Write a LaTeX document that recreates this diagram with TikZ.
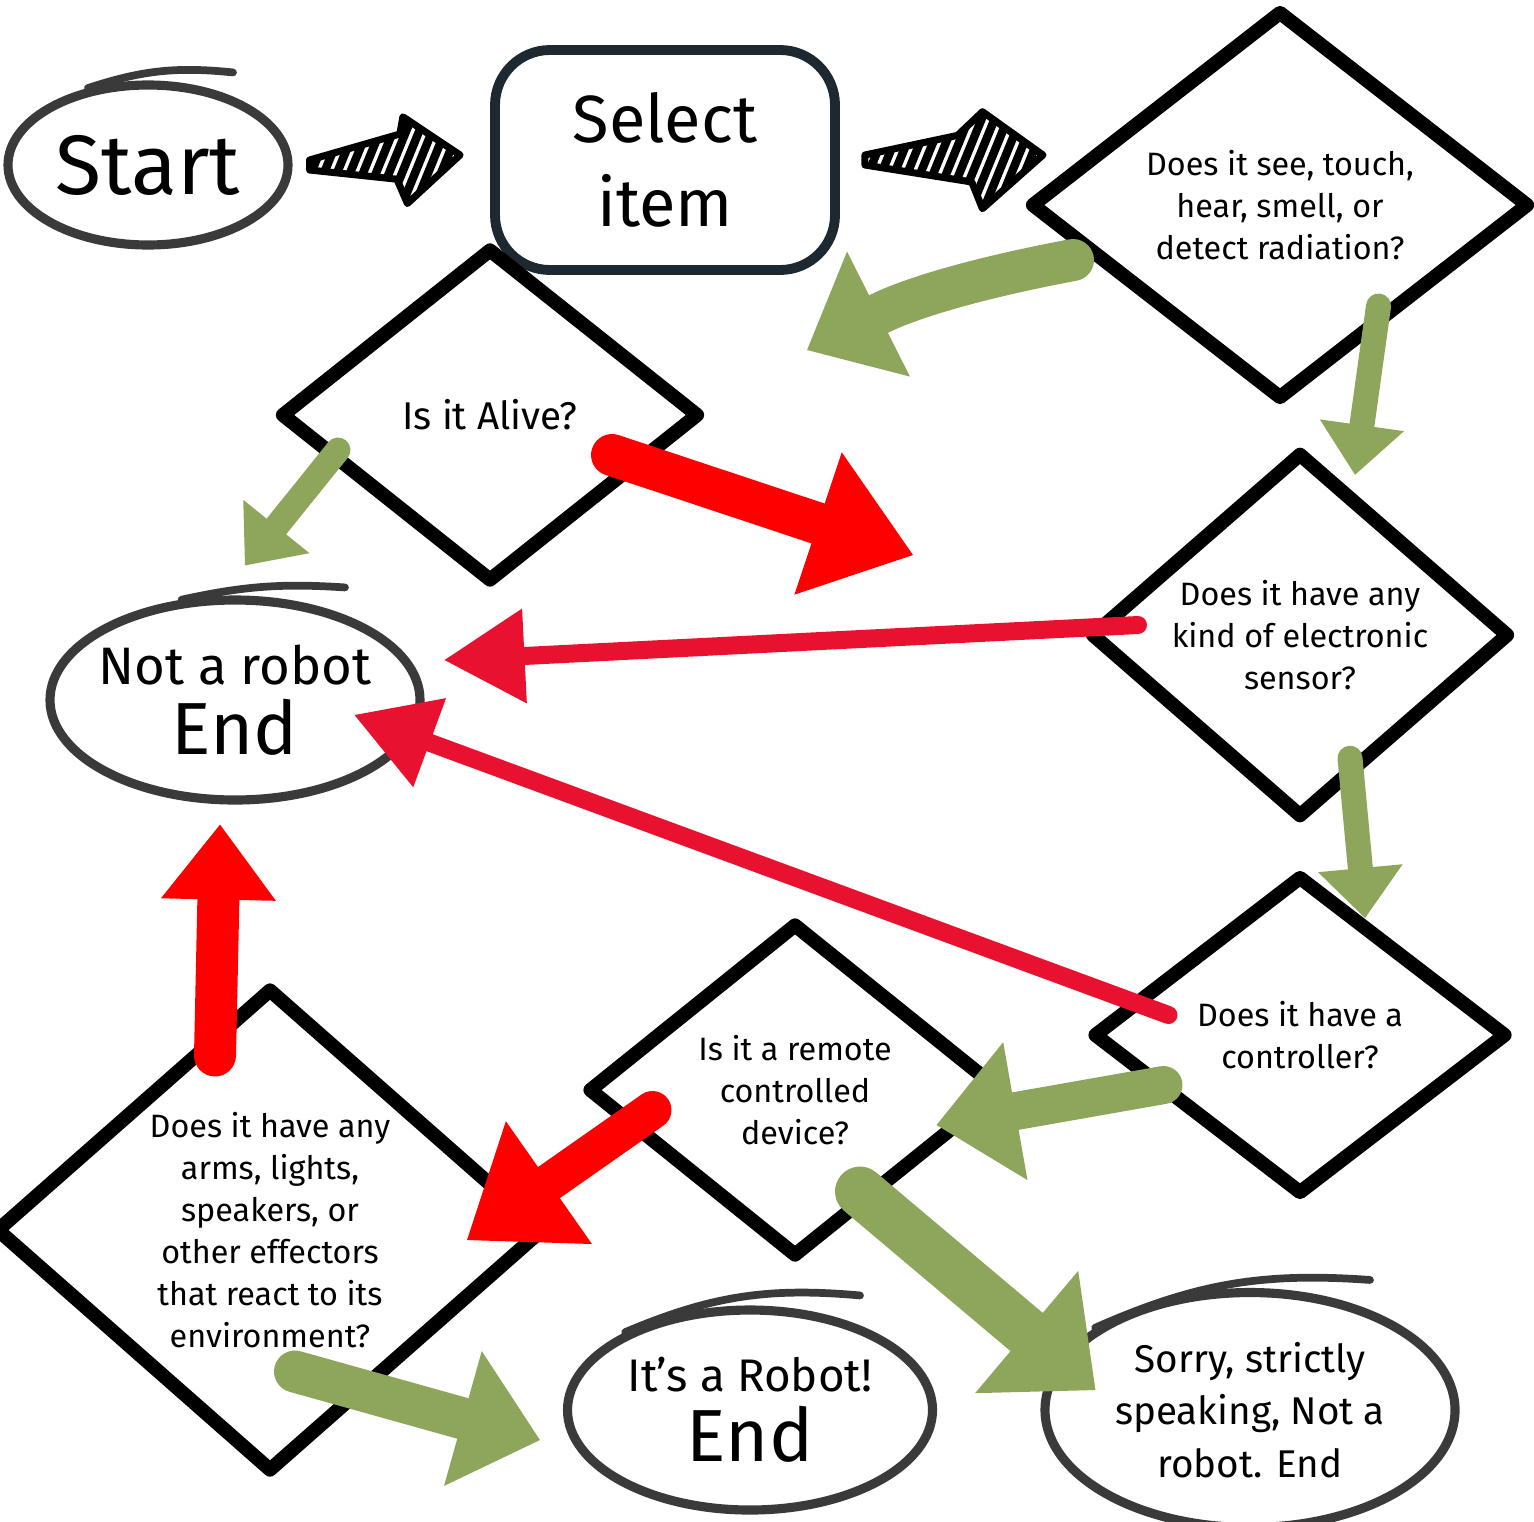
\documentclass[tikz,border=0pt]{standalone}
\usepackage{fontspec}
\setmainfont{Fira Sans}
\usetikzlibrary{arrows.meta,positioning,shapes.geometric,calc}
\definecolor{fcgreen}{RGB}{141,166,91}
\definecolor{fcred}{RGB}{255,0,0}
\definecolor{fcpink}{RGB}{232,18,48}
\definecolor{fcgray}{RGB}{58,58,58}
\definecolor{fcnavy}{RGB}{30,40,48}

\begin{document}
\begin{tikzpicture}[
  every node/.style={align=center,inner sep=0pt},
  question/.style={diamond,draw,line width=4pt,line join=round,font=\fontsize{9.2}{12}\selectfont},
  terminal/.style={ellipse,draw=fcgray,line width=2.6pt,inner sep=-0.2cm},
  process/.style={rectangle,rounded corners=0.55cm,draw=fcnavy,line width=2.8pt,minimum width=3.4cm,minimum height=2.2cm},
  sketch/.style={draw=fcgray,line width=2.2pt,line cap=round},
  garrow/.style={draw=fcgreen,line cap=round,line width=0.42cm,-{Triangle[length=0.8cm,width=1.4cm,line width=0pt]}},
  gthin/.style={draw=fcgreen,line cap=round,line width=0.25cm,-{Triangle[length=0.5cm,width=0.85cm,line width=0pt]}},
  rarrow/.style={draw=fcred,line cap=round,line width=0.42cm,-{Triangle[length=1.0cm,width=1.5cm,line width=0pt]}},
  rthin/.style={draw=fcpink,line cap=round,line width=0.18cm,-{Triangle[length=0.8cm,width=0.95cm,line width=0pt]}},
  hatched/.style={draw,line width=2pt,line join=round,
    path picture={\foreach \s in {0,...,26}
      \draw[line width=2.4pt] ([xshift=\s*1.3mm-5mm]path picture bounding box.south west) -- ++(0.45,1.1);}}
]
\useasboundingbox (0,0) rectangle (15.34,-15.21);

% terminals and steps
\node[terminal,minimum width=2.8cm,minimum height=1.6cm,font=\fontsize{24}{26}\selectfont] (start) at (1.48,-1.65) {Start};
\node[process,font=\fontsize{19}{24}\selectfont] (select) at (6.65,-1.6) {Select\\item};
\node[question,minimum width=5cm,minimum height=3.9cm] (see) at (12.8,-2.05) {Does it see, touch,\\hear, smell, or\\detect radiation?};
\node[question,minimum width=4.2cm,minimum height=3.35cm,font=\fontsize{11}{13}\selectfont] (alive) at (4.9,-4.15) {Is it Alive?};
\node[question,minimum width=4.2cm,minimum height=3.35cm] (sensor) at (13.0,-6.35) {Does it have any\\kind of electronic\\sensor?};
\node[terminal,minimum width=3.7cm,minimum height=2.0cm,font=\fontsize{15}{20}\selectfont] (notrobot) at (2.35,-7.0) {Not a robot\\{\fontsize{21}{21}\selectfont End}};
\node[question,minimum width=4.15cm,minimum height=3.2cm] (ctrl) at (13.0,-10.35) {Does it have a\\controller?};
\node[question,minimum width=4.15cm,minimum height=3.35cm] (remote) at (7.95,-10.9) {Is it a remote\\controlled\\device?};
\node[question,minimum width=5.5cm,minimum height=4.85cm] (effect) at (2.7,-12.3) {Does it have any\\arms, lights,\\speakers, or\\other effectors\\that react to its\\environment?};
\node[terminal,minimum width=3.65cm,minimum height=2.0cm,font=\fontsize{13}{20}\selectfont] (robot) at (7.5,-14.1) {It's a Robot!\\{\fontsize{21}{21}\selectfont End}};
\node[terminal,minimum width=4.1cm,minimum height=2.35cm,font=\fontsize{11}{15}\selectfont] (sorry) at (12.5,-14.1) {Sorry, strictly\\speaking, Not a\\robot. End};

% overlapping pen strokes on the ovals
\draw[sketch] (start.128) to[bend left=12] ([shift={(0.85,0.08)}]start.north);
\draw[sketch] (notrobot.118) to[bend left=8] ([shift={(1.1,0.08)}]notrobot.north);
\draw[sketch] (robot.148) to[bend left=14] ([shift={(1.1,0.1)}]robot.north);
\draw[sketch] (sorry.152) to[bend left=14] ([shift={(1.2,0.08)}]sorry.north);

% striped arrows
\coordinate (t1) at ($(start.east)+(0.17,0)$);
\coordinate (h1) at ($(select.west)+(-0.3,0.05)$);
\coordinate (t2) at ($(select.east)+(0.25,0)$);
\coordinate (h2) at ($(see.west)+(0.2,0.5)$);
\draw[hatched] ($(t1)+(0,0.05)$) -- ($(t1)!0.6!(h1)+(0,0.25)$) -- ($(t1)!0.62!(h1)+(0,0.42)$) -- (h1)
  -- ($(t1)!0.65!(h1)+(0,-0.45)$) -- ($(t1)!0.58!(h1)+(0,-0.2)$) -- ($(t1)+(0,-0.05)$) -- cycle;
\draw[hatched] ($(t2)+(0,0.05)$) -- ($(t2)!0.52!(h2)+(0,0.22)$) -- ($(t2)!0.66!(h2)+(0,0.45)$) -- (h2)
  -- ($(t2)!0.66!(h2)+(0,-0.52)$) -- ($(t2)!0.6!(h2)+(0,-0.25)$) -- ($(t2)+(0,-0.05)$) -- cycle;

% yes / no arrows
\draw[garrow] ([shift={(0.5,-0.55)}]see.west) to[bend right=8] ([shift={(1.0,0.65)}]alive.east);
\draw[gthin] ([shift={(-0.3,0)}]see.south east) -- ([shift={(0.55,-0.3)}]sensor.north);
\draw[gthin] ([shift={(0.65,-0.35)}]alive.west) -- ([shift={(0.1,0.3)}]notrobot.north);
\draw[rarrow] ([shift={(-0.95,-0.4)}]alive.east) -- ([shift={(-1.7,0.8)}]sensor.west);
\draw[rthin] ([shift={(0.55,0.1)}]sensor.west) -- ([shift={(0.2,0.4)}]notrobot.east);
\draw[gthin] ([shift={(0.5,0.67)}]sensor.south) -- ([shift={(0.65,-0.5)}]ctrl.north);
\draw[rthin] ([shift={(0.83,0.2)}]ctrl.west) -- ([shift={(-0.7,-0.15)}]notrobot.east);
\draw[garrow,line width=0.38cm] ([shift={(0.78,-0.5)}]ctrl.west) -- ([shift={(-0.73,-0.35)}]remote.east);
\draw[rarrow,line width=0.38cm] ([shift={(0.72,-0.2)}]remote.west) -- ([shift={(-0.85,-0.1)}]effect.east);
\draw[garrow,line width=0.5cm,-{Triangle[length=0.9cm,width=1.6cm,line width=0pt]}] ([shift={(0.65,0.73)}]remote.south) -- ([shift={(0.55,0.2)}]sorry.west);
\draw[rarrow,-{Triangle[length=0.75cm,width=1.15cm,line width=0pt]}] ([shift={(-0.55,-0.75)}]effect.north) -- ([shift={(-0.15,-0.2)}]notrobot.south);
\draw[garrow] ([shift={(0.25,1.08)}]effect.south) -- ([shift={(-0.23,-0.3)}]robot.west);
\end{tikzpicture}
\end{document}
